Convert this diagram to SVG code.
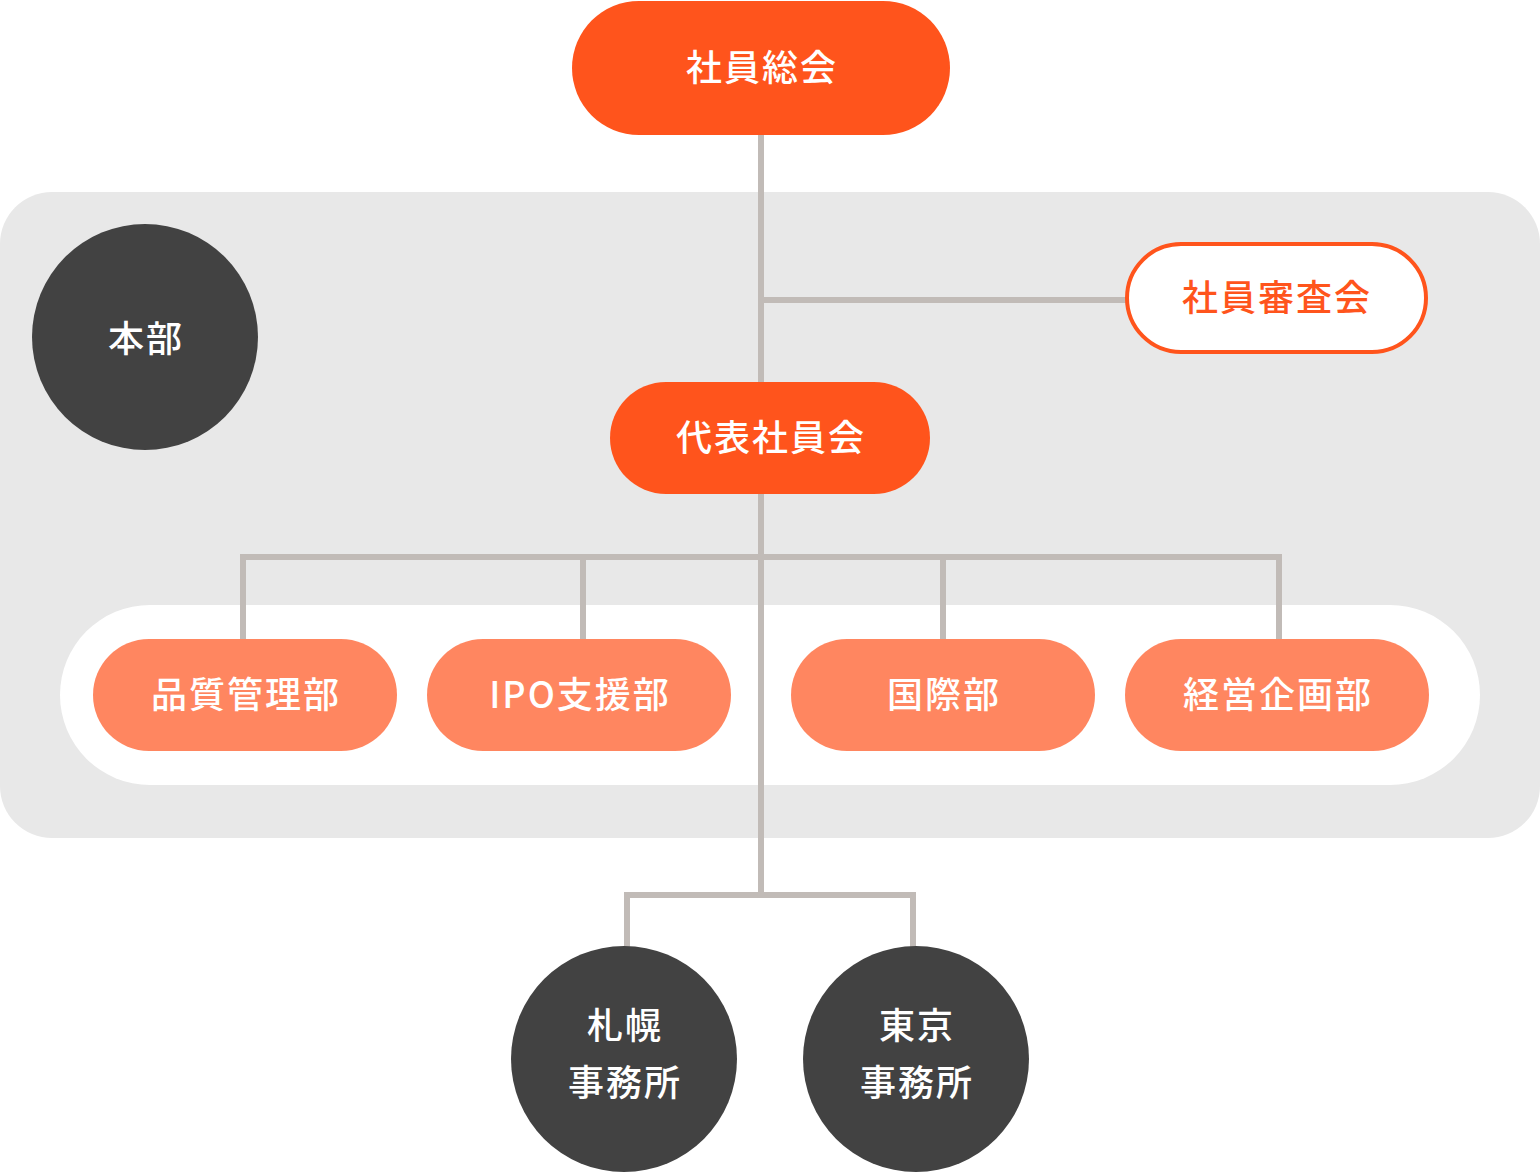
<svg xmlns="http://www.w3.org/2000/svg" width="1540" height="1172" viewBox="0 0 1540 1172">
<style>
text{font-family:"Noto Sans CJK JP","Noto Sans",sans-serif;font-size:36px;font-weight:500;letter-spacing:2px;text-anchor:middle;dominant-baseline:central}
.w{fill:#ffffff}
.o{fill:#FF541C}
.main{fill:#FF541C}
.dept{fill:#FF8660}
.dark{fill:#424242}
.conn{fill:none;stroke:#C1BBB7;stroke-width:6}
</style>
<rect id="honbu-area" x="0" y="192" width="1540" height="646" rx="52" fill="#E8E8E8"/>
<rect id="dept-area" x="60" y="605" width="1420" height="180" rx="90" fill="#ffffff"/>
<g id="connectors">
<path class="conn" d="M761 135 V895"/>
<path class="conn" d="M761 300 H1128"/>
<path class="conn" d="M243 639 V557 H1279 V639"/>
<path class="conn" d="M583 557 V639"/>
<path class="conn" d="M943 557 V639"/>
<path class="conn" d="M627 947 V895 H913 V947"/>
</g>
<g id="shain-sokai">
<rect class="main" x="572" y="1" width="378" height="134" rx="67"/>
<text class="w" x="762" y="65">社員総会</text>
</g>
<g id="honbu">
<circle class="dark" cx="145" cy="337" r="113"/>
<text class="w" x="146" y="336">本部</text>
</g>
<g id="shain-shinsakai">
<rect x="1127" y="244" width="299" height="108" rx="54" fill="#ffffff" stroke="#FF541C" stroke-width="4"/>
<text class="o" x="1277" y="295">社員審査会</text>
</g>
<g id="daihyo-shainkai">
<rect class="main" x="610" y="382" width="320" height="112" rx="56"/>
<text class="w" x="771" y="435">代表社員会</text>
</g>
<g id="hinshitsu">
<rect class="dept" x="93" y="639" width="304" height="112" rx="56"/>
<text class="w" x="246" y="692">品質管理部</text>
</g>
<g id="ipo">
<rect class="dept" x="427" y="639" width="304" height="112" rx="56"/>
<text class="w" x="580" y="692">IPO支援部</text>
</g>
<g id="kokusai">
<rect class="dept" x="791" y="639" width="304" height="112" rx="56"/>
<text class="w" x="944" y="692">国際部</text>
</g>
<g id="keiei">
<rect class="dept" x="1125" y="639" width="304" height="112" rx="56"/>
<text class="w" x="1278" y="692">経営企画部</text>
</g>
<g id="sapporo">
<circle class="dark" cx="624" cy="1059" r="113"/>
<text class="w" x="625" y="1023">札幌</text>
<text class="w" x="625" y="1080">事務所</text>
</g>
<g id="tokyo">
<circle class="dark" cx="916" cy="1059" r="113"/>
<text class="w" x="917" y="1023">東京</text>
<text class="w" x="917" y="1080">事務所</text>
</g>
</svg>
